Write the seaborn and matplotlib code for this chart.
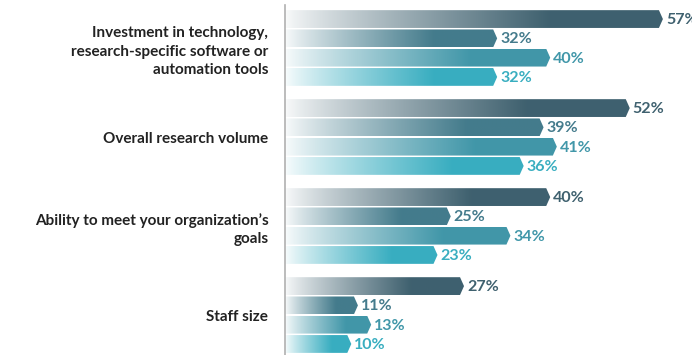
import numpy as np
import pandas as pd
import matplotlib
matplotlib.use("Agg")
import matplotlib.pyplot as plt
from matplotlib.patches import Polygon
from matplotlib.colors import to_rgb
import seaborn as sns

# data
categories = [
    "Investment in technology,\nresearch-specific software or\nautomation tools",
    "Overall research volume",
    "Ability to meet your organization\u2019s\ngoals",
    "Staff size",
]
series = ["S1", "S2", "S3", "S4"]
values_s1 = [57, 52, 40, 27]
values_s2 = [32, 39, 25, 11]
values_s3 = [40, 41, 34, 13]
values_s4 = [32, 36, 23, 10]
series_colors = ["#376477", "#388298", "#30a2ba", "#22bed7"]

rows = []
for s, vals in zip(series, [values_s1, values_s2, values_s3, values_s4]):
    for c, v in zip(categories, vals):
        rows.append({"category": c, "series": s, "value": v})
df = pd.DataFrame(rows)

sns.set_style("white")
plt.rcParams["font.family"] = ["Lato", "DejaVu Sans"]

W, H = 692, 355
fig = plt.figure(figsize=(W / 100, H / 100), dpi=100)
ax = fig.add_axes([285 / W, 0, (W - 285) / W, 350 / H])

sns.barplot(data=df, x="value", y="category", hue="series", orient="h",
            palette=series_colors, width=0.867, legend=False, ax=ax)

xmax = (W - 285) / 6.63
tip = 0.6
bar_h = 0.2
for p in list(ax.patches):
    v = p.get_width()
    yc = p.get_y() + p.get_height() / 2
    col = np.array(to_rgb(p.get_facecolor()))
    p.set_visible(False)
    y0, y1 = yc - bar_h / 2, yc + bar_h / 2
    poly = Polygon([(0, y0), (v - tip, y0), (v, yc), (v - tip, y1), (0, y1)],
                   closed=True, facecolor="none", edgecolor="none",
                   transform=ax.transData)
    ax.add_patch(poly)
    # white -> colour fade along the bar
    t = np.linspace(0, 1, 256)
    frac = np.clip(t / 0.7, 0, 1) ** 0.85
    frac = 0.03 + 0.97 * frac
    rgb = (1 - frac)[:, None] * np.ones(3) + frac[:, None] * col
    im = ax.imshow(rgb[None, :, :], extent=[0, v, y1, y0], aspect="auto",
                   interpolation="bilinear", zorder=2)
    im.set_clip_path(poly)
    ax.text(v + 0.45, yc + 0.01, f"{int(round(v))}%", va="center", ha="left",
            color=col, fontsize=11.5, fontweight="bold", zorder=3)

ax.set_ylim(3.449, -0.483)
ax.set_xlim(0, xmax)
ax.set_xticks([])
ax.set_yticks(range(len(categories)))
ax.set_yticklabels(categories, fontsize=11, fontweight="bold",
                   color="#222222", linespacing=1.4)
ax.tick_params(axis="y", length=0, pad=12)
ax.set_xlabel("")
ax.set_ylabel("")
for s in ["top", "right", "bottom"]:
    ax.spines[s].set_visible(False)
ax.spines["left"].set_color("#b0b0b0")
ax.spines["left"].set_linewidth(1.2)

fig.savefig("out.png", dpi=100)
